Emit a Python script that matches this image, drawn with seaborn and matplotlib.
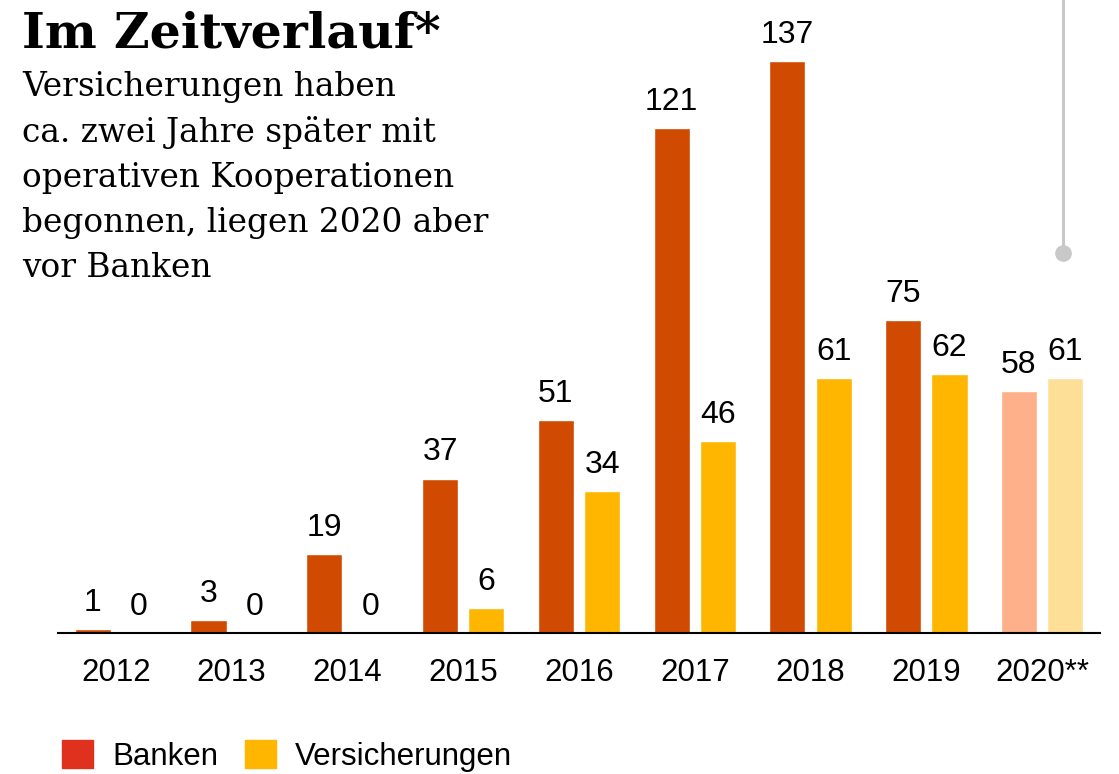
import pandas as pd
import matplotlib.pyplot as plt
import matplotlib.patches as mpatches
import matplotlib.lines as mlines
import seaborn as sns

# Werte aus der Grafik
years = ["2012", "2013", "2014", "2015", "2016", "2017", "2018", "2019", "2020**"]
banken = [1, 3, 19, 37, 51, 121, 137, 75, 58]
versicherungen = [0, 0, 0, 6, 34, 46, 61, 62, 61]
series = ["Banken", "Versicherungen"]

bar_colors = {"Banken": "#D04A02", "Versicherungen": "#FFB600"}
light_colors = {"Banken": "#FDB08A", "Versicherungen": "#FDDF98"}  # 2020 (Prognose)
legend_colors = {"Banken": "#E0301E", "Versicherungen": "#FFB600"}

df = pd.DataFrame({
    "Jahr": years * 2,
    "Reihe": ["Banken"] * len(years) + ["Versicherungen"] * len(years),
    "Anzahl": banken + versicherungen,
})

sns.set_theme(style="white")
plt.rcParams["font.family"] = ["Liberation Sans", "DejaVu Sans"]
plt.rcParams["text.color"] = "black"

W, H = 1119, 774
fig = plt.figure(figsize=(W / 100, H / 100), dpi=100)
ax = fig.add_axes([58 / W, 141 / H, 1042 / W, 633 / H])

sns.barplot(data=df, x="Jahr", y="Anzahl", hue="Reihe", hue_order=series,
            palette=bar_colors, width=0.8, gap=0.22, saturation=1,
            legend=False, ax=ax)

# letztes Jahr heller einfaerben
for name, cont in zip(series, ax.containers):
    cont.patches[-1].set_facecolor(light_colors[name])
    ax.bar_label(cont, fmt="%d", padding=8, fontsize=23, color="black")

ax.set_xlim(-0.5, len(years) - 0.5)
ax.set_ylim(0, 151.6)
ax.set_xlabel("")
ax.set_ylabel("")
ax.set_yticks([])
ax.tick_params(axis="x", length=0, pad=18, labelsize=22.5, colors="black")
for side in ["top", "left", "right"]:
    ax.spines[side].set_visible(False)
ax.spines["bottom"].set_color("black")
ax.spines["bottom"].set_linewidth(1.5)

# Titel und Untertitel
fig.text(22 / W, 1 - 48 / H, "Im Zeitverlauf*", fontsize=35.4, fontweight="bold",
         family="DejaVu Serif", va="baseline", ha="left", color="black")
fig.text(22 / W, 1 - 71 / H,
         "Versicherungen haben\nca. zwei Jahre später mit\noperativen Kooperationen\n"
         "begonnen, liegen 2020 aber\nvor Banken",
         fontsize=23.6, family="DejaVu Serif", va="top", ha="left",
         linespacing=1.51, color="black")

# graue Hinweislinie oben rechts
fig.add_artist(mlines.Line2D([1063 / W, 1063 / W], [1.0, 1 - 253 / H],
                             color="#C8C8C8", lw=2.2))
fig.add_artist(mlines.Line2D([1063 / W], [1 - 253 / H], marker="o",
                             markersize=11, color="#C8C8C8", lw=0))

# Legende
handles = [mpatches.Patch(color=legend_colors[s], label=s) for s in series]
fig.legend(handles=handles, loc="lower left", bbox_to_anchor=(62 / W, 2 / H),
           ncol=2, frameon=False, fontsize=22.5, labelcolor="black",
           handlelength=1.0, handleheight=1.0, handletextpad=0.6,
           columnspacing=0.85, borderpad=0, borderaxespad=0)

fig.savefig("out.png", dpi=100)
